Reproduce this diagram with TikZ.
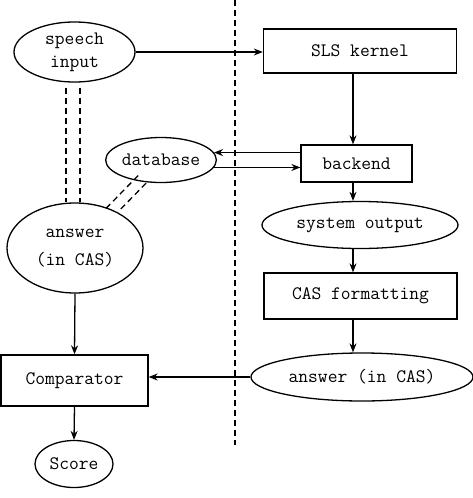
\documentclass[tikz,border=0pt]{standalone}
\usetikzlibrary{arrows.meta,shapes.geometric,calc}
\begin{document}
\begin{tikzpicture}[x=1pt,y=-1pt,line width=1.3pt,
  every node/.style={font=\ttfamily\fontsize{19}{23}\selectfont,inner sep=0pt},
  ell/.style={draw,ellipse,align=center},
  box/.style={draw,rectangle},
  arr/.style={-{Stealth[length=9pt,width=7pt]}},
  sep/.style={dash pattern=on 6pt off 4pt,line width=1.5pt},
  dd/.style={dash pattern=on 6pt off 4pt,line width=1.3pt}]
\useasboundingbox (0,0) rectangle (472,498);
% left column
\node[ell,minimum width=121pt,minimum height=60pt] (speech) at (74.5,52) {speech\\input};
\node[ell,minimum width=136pt,minimum height=90pt] (answerL) at (75,248) {answer\\[5pt](in CAS)};
\node[ell,minimum width=105pt,minimum height=45pt] (database) at (161,160) {database};
\node[box,minimum width=147pt,minimum height=51pt] (comparator) at (74.5,380.5) {Comparator};
\node[ell,minimum width=78pt,minimum height=47pt] (score) at (74,464) {Score};
% right column
\node[box,minimum width=193pt,minimum height=44pt] (kernel) at (360,51) {SLS kernel};
\node[box,minimum width=111pt,minimum height=37pt] (backend) at (356.5,163.5) {backend};
\node[ell,minimum width=196pt,minimum height=47pt] (sysout) at (360,225) {system output};
\node[box,minimum width=193pt,minimum height=46pt] (casfmt) at (360.5,296) {CAS formatting};
\node[ell,minimum width=222pt,minimum height=48pt] (answerR) at (362,377) {answer (in CAS)};
% separator
\coordinate (septop) at (235,0);
\coordinate (sepbot) at (235,445);
\coordinate (ax) at (353,0);
\draw[sep] (septop) -- (sepbot);
% connectors
\draw[arr] (speech.east) -- (kernel.west |- speech.east);
\draw[arr] (kernel.south -| ax) -- (backend.north -| ax);
\draw[arr] (backend.west |- database.8) -- (database.8);
\draw[arr] (database.-8) -- (backend.west |- database.-8);
\draw[arr] (backend.south -| ax) -- (sysout.north -| ax);
\draw[arr] (sysout.south -| ax) -- (casfmt.north -| ax);
\draw[arr] (casfmt.south -| ax) -- (answerR.north -| ax);
\draw[arr] (answerR.west) -- (comparator.east |- answerR.west);
\draw[arr] (answerL.south) -- (comparator.north);
\draw[arr] (comparator.south) -- (score.north);
% double dashed links
\coordinate (v1) at (66,0);
\coordinate (v2) at (80,0);
\draw[dd] ([yshift=-5pt]speech.south -| v1) -- (answerL.north -| v1);
\draw[dd] ([yshift=-5pt]speech.south -| v2) -- (answerL.north -| v2);
\draw[dd,shorten <=27pt,shorten >=56pt] ($(database)!5.5pt!90:(answerL)$) -- ($(answerL)!5.5pt!-90:(database)$);
\draw[dd,shorten <=27pt,shorten >=50pt] ($(database)!5.5pt!-90:(answerL)$) -- ($(answerL)!5.5pt!90:(database)$);
\end{tikzpicture}
\end{document}
